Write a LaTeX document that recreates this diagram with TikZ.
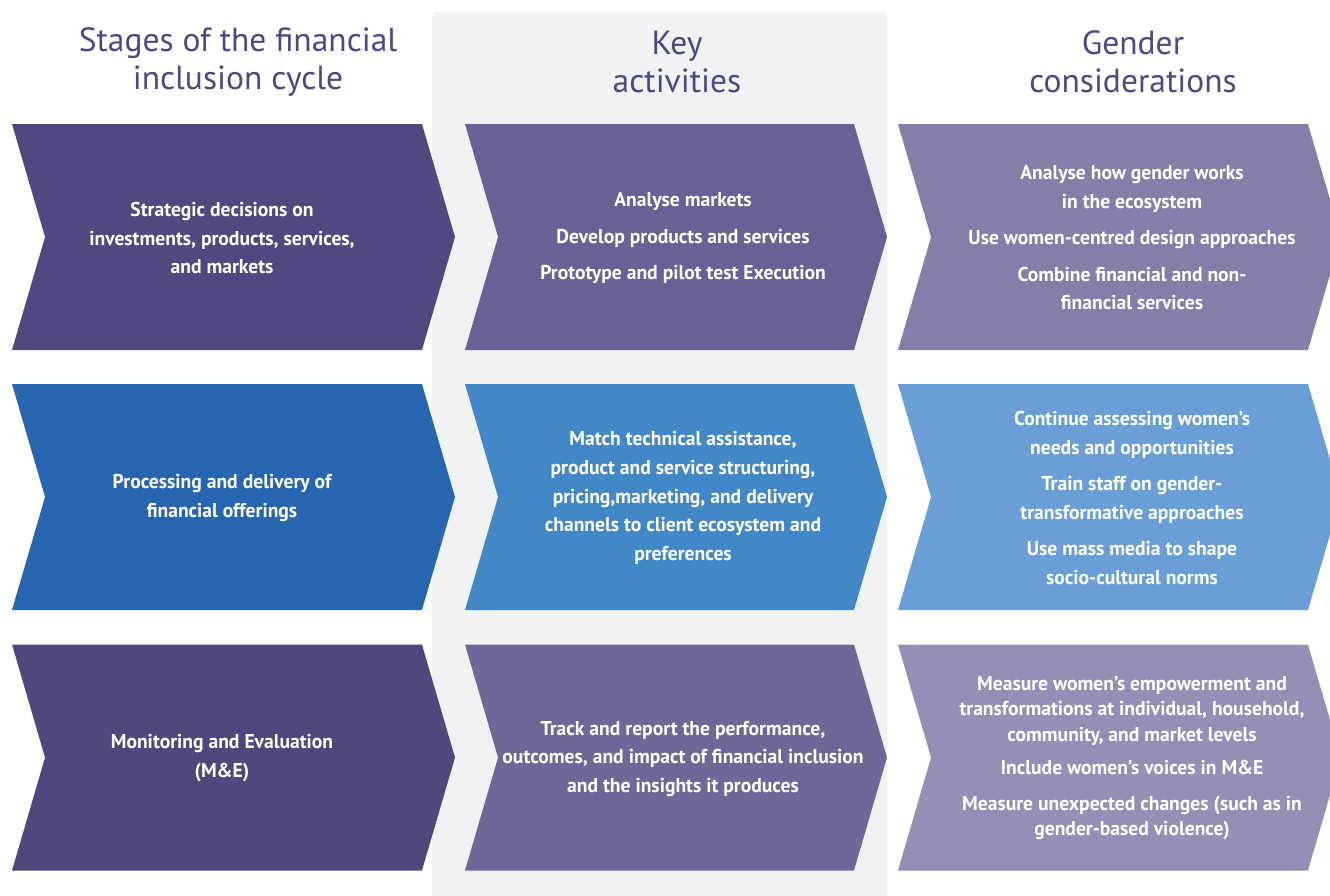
\documentclass[tikz,border=0pt]{standalone}
\usepackage{fontspec}
\setmainfont{PT Sans}
\newfontfamily\bodyfont{PT Sans}[FakeStretch=0.98]
\usetikzlibrary{shapes.symbols}
\definecolor{TC}{HTML}{4E4786}
\definecolor{PN}{HTML}{F1F2F4}
\definecolor{C11}{HTML}{524880}
\definecolor{C12}{HTML}{6A6096}
\definecolor{C13}{HTML}{867EA8}
\definecolor{C21}{HTML}{2865B0}
\definecolor{C22}{HTML}{4288C7}
\definecolor{C23}{HTML}{699FD6}
\definecolor{C31}{HTML}{52477D}
\definecolor{C32}{HTML}{6E6899}
\definecolor{C33}{HTML}{958EB5}
\tikzset{
    CH/.style ={signal, signal from=west, signal to=east, signal pointer angle=147.4,
                minimum width=443pt, minimum height=226pt, inner sep=0pt, outer sep=0pt},
    CHM/.style={CH, minimum width=422pt},
    TT/.style ={align=center, text=TC, font=\fontsize{33.5}{38}\selectfont},
    TX/.style ={align=center, text=white, font=\bodyfont\bfseries\fontsize{20}{28.75}\selectfont}}

\begin{document}
\begin{tikzpicture}[x=1pt,y=-1pt]
        \clip (0,0) rectangle (1330,895);
        \fill[PN,rounded corners=5pt] (432,12) rectangle (887,910);
        % headings
        \node[TT] (h1) at(238,62){Stages of the financial\\inclusion cycle};
        \node[TT] (h2) at(677,62){Key\\activities};
        \node[TT] (h3) at(1133,62){Gender\\considerations};
        % row 1
        \node[CH,fill=C11] (s1) at(233.5,237){};
        \node[CHM,fill=C12] (a1) at(676,237){};
        \node[CH,fill=C13] (g1) at(1119.5,237){};
        \node[TX] (ts1) at(222,238){Strategic decisions on\\investments, products, services,\\and markets};
        \node[TX] (ta1) at(683,238){Analyse markets\\[7.5pt]Develop products and services\\[7.5pt]Prototype and pilot test Execution};
        \node[TX] (tg1) at(1132,238){Analyse how gender works\\in the ecosystem\\[7.5pt]Use women-centred design approaches\\[7.5pt]Combine financial and non-\\financial services};
        % row 2
        \node[CH,fill=C21] (s2) at(233.5,497){};
        \node[CHM,fill=C22] (a2) at(676,497){};
        \node[CH,fill=C23] (g2) at(1119.5,497){};
        \node[TX] (ts2) at(222,498){Processing and delivery of\\financial offerings};
        \node[TX] (ta2) at(683,498){Match technical assistance,\\product and service structuring,\\pricing,marketing, and delivery\\channels to client ecosystem and\\preferences};
        \node[TX] (tg2) at(1132,498){Continue assessing women’s\\needs and opportunities\\[7.5pt]Train staff on gender-\\transformative approaches\\[7.5pt]Use mass media to shape\\socio-cultural norms};
        % row 3
        \node[CH,fill=C31] (s3) at(233.5,757.5){};
        \node[CHM,fill=C32] (a3) at(676,757.5){};
        \node[CH,fill=C33] (g3) at(1119.5,757.5){};
        \node[TX] (ts3) at(222,758){Monitoring and Evaluation\\(M\&E)};
        \node[TX] (ta3) at(683,759){Track and report the performance,\\outcomes, and impact of financial inclusion\\and the insights it produces};
        \node[TX,font=\bodyfont\bfseries\fontsize{20}{25.5}\selectfont] (tg3) at(1132,758){Measure women’s empowerment and\\transformations at individual, household,\\community, and market levels\\[8pt]Include women’s voices in M\&E\\[10pt]Measure unexpected changes (such as in\\gender-based violence)};
    \end{tikzpicture}
\end{document}
